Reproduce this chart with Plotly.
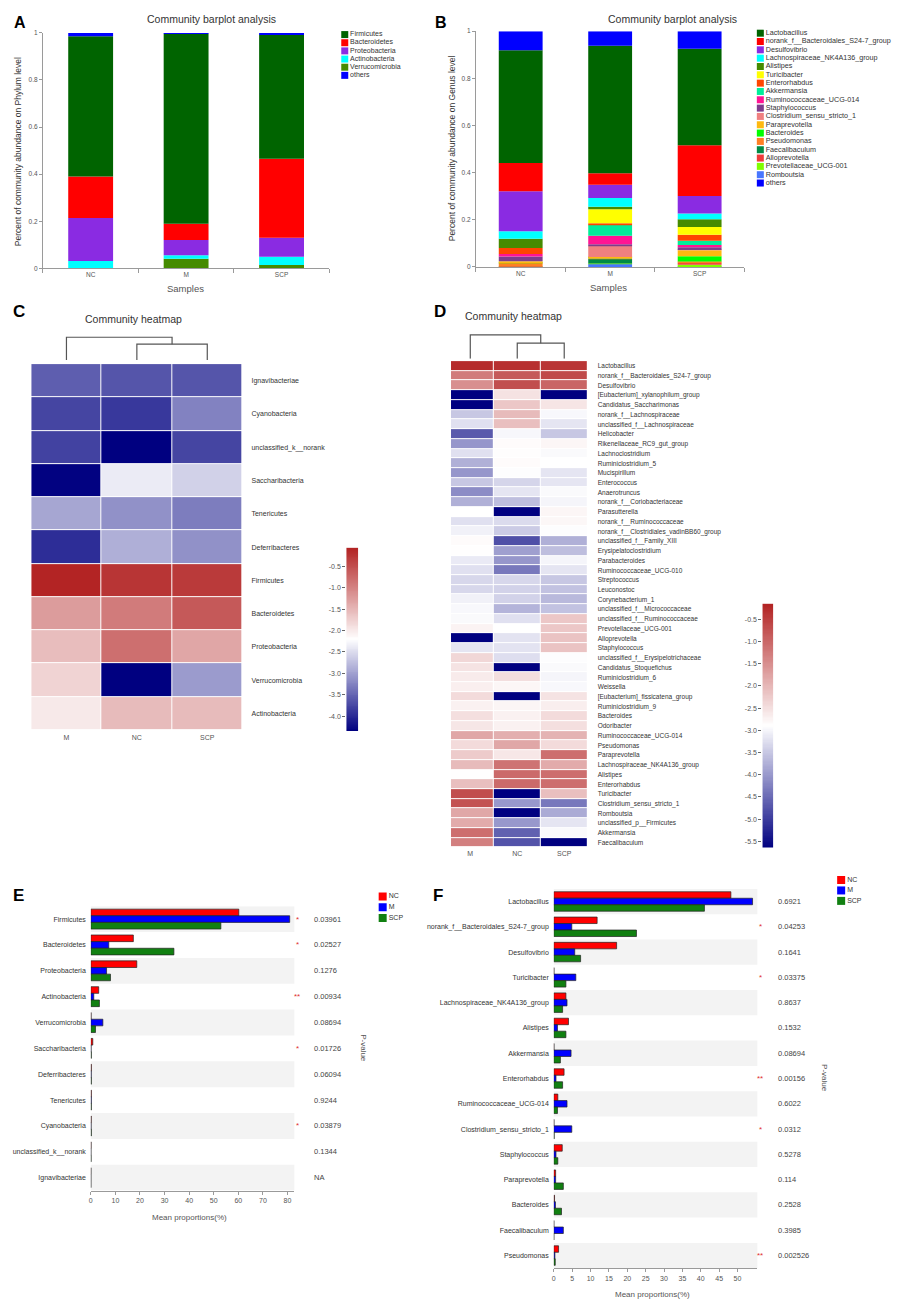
import numpy as np
import plotly.graph_objects as go

# the page body keeps its default 8px margin, so the figure is drawn 8px smaller
# and all pixel positions below are given in page coordinates
OFF = 8
W, H = 907 - OFF, 1307 - OFF
FONT = "Liberation Sans, Arial, sans-serif"
TXT = "#333333"
AX = "#9a9a9a"

# ---------------- data ----------------
samples = ["NC", "M", "SCP"]

# A: phylum level community barplot (fractions)
phyla = ["Firmicutes", "Bacteroidetes", "Proteobacteria", "Actinobacteria",
         "Verrucomicrobia", "others"]
phylum_nc = [0.596, 0.176, 0.183, 0.030, 0.001, 0.014]
phylum_m = [0.807, 0.069, 0.064, 0.015, 0.041, 0.004]
phylum_scp = [0.528, 0.335, 0.081, 0.035, 0.014, 0.007]
phylum_colors = ["#006400", "#FF0000", "#8A2BE2", "#00FFFF", "#458B00", "#0000FF"]

# B: genus level community barplot (fractions)
genera = ["Lactobacillus", "norank_f__Bacteroidales_S24-7_group", "Desulfovibrio",
          "Lachnospiraceae_NK4A136_group", "Alistipes", "Turicibacter", "Enterorhabdus",
          "Akkermansia", "Ruminococcaceae_UCG-014", "Staphylococcus",
          "Clostridium_sensu_stricto_1", "Paraprevotella", "Bacteroides", "Pseudomonas",
          "Faecalibaculum", "Alloprevotella", "Prevotellaceae_UCG-001", "Romboutsia", "others"]
genus_nc = [0.478, 0.120, 0.170, 0.031, 0.040, 0.000, 0.025, 0.000, 0.011, 0.020,
            0.000, 0.005, 0.002, 0.014, 0.000, 0.001, 0.002, 0.000, 0.081]
genus_m = [0.541, 0.048, 0.057, 0.037, 0.010, 0.060, 0.006, 0.047, 0.036, 0.005,
           0.049, 0.002, 0.003, 0.003, 0.020, 0.000, 0.002, 0.012, 0.062]
genus_scp = [0.410, 0.215, 0.074, 0.025, 0.033, 0.033, 0.025, 0.018, 0.010, 0.011,
             0.001, 0.026, 0.022, 0.005, 0.000, 0.009, 0.006, 0.003, 0.074]
genus_colors = ["#006400", "#FF0000", "#8A2BE2", "#00FFFF", "#458B00", "#FFFF00", "#FF4500",
                "#00EE99", "#FF1493", "#7D3C8C", "#F08080", "#FFB90F", "#00FF00", "#FF7F24",
                "#008B45", "#EE3B3B", "#7FFF00", "#4876FF", "#0000FF"]

# C: phylum heatmap (log10 relative abundance)
heat_cols = ["M", "NC", "SCP"]
phylum_heat_rows = ["Ignavibacteriae", "Cyanobacteria", "unclassified_k__norank",
                    "Saccharibacteria", "Tenericutes", "Deferribacteres", "Firmicutes",
                    "Bacteroidetes", "Proteobacteria", "Verrucomicrobia", "Actinobacteria"]
phylum_heat_m = [-3.56, -3.77, -3.80, -4.33, -2.96, -3.97, -0.09, -1.25, -1.57, -1.78, -2.00]
phylum_heat_nc = [-3.64, -3.88, -4.35, -2.38, -3.13, -2.88, -0.25, -0.93, -0.82, -4.35, -1.55]
phylum_heat_scp = [-3.64, -3.26, -3.77, -2.60, -3.30, -3.13, -0.30, -0.60, -1.35, -3.05, -1.55]
c_range = [-4.35, -0.07]
c_ticks = [-0.5, -1.0, -1.5, -2.0, -2.5, -3.0, -3.5, -4.0]
c_dendro = [16, 23]  # NC+SCP merge height, root merge height

# D: genus heatmap (log10 relative abundance)
genus_heat_rows = [
    "Lactobacillus", "norank_f__Bacteroidales_S24-7_group", "Desulfovibrio",
    "[Eubacterium]_xylanophilum_group", "Candidatus_Saccharimonas", "norank_f__Lachnospiraceae",
    "unclassified_f__Lachnospiraceae", "Helicobacter", "Rikenellaceae_RC9_gut_group",
    "Lachnoclostridium", "Ruminiclostridium_5", "Mucispirillum", "Enterococcus", "Anaerotruncus",
    "norank_f__Coriobacteriaceae", "Parasutterella", "norank_f__Ruminococcaceae",
    "norank_f__Clostridiales_vadinBB60_group", "unclassified_f__Family_XIII",
    "Erysipelatoclostridium", "Parabacteroides", "Ruminococcaceae_UCG-010", "Streptococcus",
    "Leuconostoc", "Corynebacterium_1", "unclassified_f__Micrococcaceae",
    "unclassified_f__Ruminococcaceae", "Prevotellaceae_UCG-001", "Alloprevotella",
    "Staphylococcus", "unclassified_f__Erysipelotrichaceae", "Candidatus_Stoquefichus",
    "Ruminiclostridium_6", "Weissella", "[Eubacterium]_fissicatena_group", "Ruminiclostridium_9",
    "Bacteroides", "Odoribacter", "Ruminococcaceae_UCG-014", "Pseudomonas", "Paraprevotella",
    "Lachnospiraceae_NK4A136_group", "Alistipes", "Enterorhabdus", "Turicibacter",
    "Clostridium_sensu_stricto_1", "Romboutsia", "unclassified_p__Firmicutes", "Akkermansia",
    "Faecalibaculum"]
genus_heat_m = [-0.27, -1.25, -1.50, -5.64, -5.64, -3.50, -3.23, -4.68, -4.02, -3.23,
                -3.75, -4.02, -3.50, -4.13, -3.75, -2.90, -3.23, -3.05, -2.85, -2.88,
                -3.12, -3.23, -3.33, -3.33, -3.05, -2.97, -2.95, -2.75, -5.64, -3.17,
                -2.40, -2.55, -2.65, -2.70, -2.45, -2.72, -2.50, -2.58, -1.80, -2.45,
                -2.25, -2.05, -2.88, -2.10, -0.70, -0.75, -1.80, -1.85, -1.10, -1.30]
genus_heat_nc = [-0.32, -0.84, -0.70, -2.54, -2.20, -2.05, -2.10, -2.98, -2.85, -2.87,
                 -2.85, -2.92, -3.35, -3.17, -3.60, -5.64, -3.28, -3.45, -4.79, -3.93,
                 -4.02, -4.35, -3.33, -3.38, -3.38, -3.70, -3.23, -2.90, -3.20, -3.20,
                 -3.25, -5.64, -2.48, -2.78, -5.64, -2.77, -2.72, -2.72, -1.90, -1.80,
                 -2.60, -1.15, -1.05, -1.05, -5.64, -4.00, -5.64, -4.00, -4.60, -4.75]
genus_heat_scp = [-0.39, -0.65, -0.98, -5.64, -2.57, -2.97, -3.17, -3.50, -2.78, -2.95,
                  -2.90, -3.17, -3.17, -2.95, -3.00, -2.78, -2.80, -2.92, -3.75, -3.60,
                  -3.00, -3.17, -3.50, -3.55, -3.65, -3.55, -2.20, -2.20, -2.15, -2.15,
                  -2.92, -2.95, -3.00, -2.97, -2.55, -2.68, -2.45, -2.50, -1.95, -2.45,
                  -1.10, -1.85, -1.10, -1.10, -2.10, -4.35, -3.80, -3.17, -2.95, -5.64]
d_range = [-5.64, -0.15]
d_ticks = [-0.5, -1.0, -1.5, -2.0, -2.5, -3.0, -3.5, -4.0, -4.5, -5.0, -5.5]
d_dendro = [15.7, 24]

# E: phylum differences (mean proportions %)
phylum_diff = ["Firmicutes", "Bacteroidetes", "Proteobacteria", "Actinobacteria",
               "Verrucomicrobia", "Saccharibacteria", "Deferribacteres", "Tenericutes",
               "Cyanobacteria", "unclassified_k__norank", "Ignavibacteriae"]
phylum_diff_nc = [60.2, 17.3, 18.7, 3.2, 0.1, 0.8, 0.2, 0.2, 0.15, 0.1, 0.05]
phylum_diff_m = [80.9, 7.3, 6.4, 1.2, 4.9, 0.1, 0.15, 0.2, 0.1, 0.05, 0.03]
phylum_diff_scp = [52.9, 33.8, 8.0, 3.5, 1.9, 0.2, 0.2, 0.2, 0.2, 0.1, 0.02]
phylum_pvals = ["0.03961", "0.02527", "0.1276", "0.00934", "0.08694", "0.01726",
                "0.06094", "0.9244", "0.03879", "0.1344", "NA"]
phylum_stars = ["*", "*", "", "**", "", "*", "", "", "*", "", ""]

# F: genus differences (mean proportions %)
genus_diff = ["Lactobacillus", "norank_f__Bacteroidales_S24-7_group", "Desulfovibrio",
              "Turicibacter", "Lachnospiraceae_NK4A136_group", "Alistipes", "Akkermansia",
              "Enterorhabdus", "Ruminococcaceae_UCG-014", "Clostridium_sensu_stricto_1",
              "Staphylococcus", "Paraprevotella", "Bacteroides", "Faecalibaculum", "Pseudomonas"]
genus_diff_nc = [48.2, 11.8, 17.1, 0.05, 3.3, 4.0, 0.05, 2.8, 1.1, 0.05, 2.3, 0.5, 0.2, 0.02, 1.3]
genus_diff_m = [54.1, 4.9, 5.7, 6.0, 3.6, 1.0, 4.7, 0.6, 3.6, 4.9, 0.6, 0.5, 0.45, 2.6, 0.3]
genus_diff_scp = [41.0, 22.5, 7.3, 3.3, 2.4, 3.3, 1.8, 2.4, 1.0, 0.1, 1.1, 2.6, 2.1, 0.02, 0.4]
genus_pvals = ["0.6921", "0.04253", "0.1641", "0.03375", "0.8637", "0.1532", "0.08694",
               "0.00156", "0.6022", "0.0312", "0.5278", "0.114", "0.2528", "0.3985", "0.002526"]
genus_stars = ["", "*", "", "*", "", "", "", "**", "", "*", "", "", "", "", "**"]
group_colors = ["#FF0000", "#0000FF", "#118011"]

HEAT = [[0.0, "#000080"], [0.5, "#FFFFFF"], [1.0, "#B22222"]]

# ---------------- figure ----------------
fig = go.Figure()
layout = dict(width=W, height=H, margin=dict(l=0, r=0, t=0, b=0),
              paper_bgcolor="white", plot_bgcolor="white", showlegend=False,
              barmode="group", bargap=0.23, bargroupgap=0,
              font=dict(family=FONT, size=7, color=TXT))
annotations = []
shapes = []


def px(x):
    return (x - OFF) / W


def py(y):
    return 1 - (y - OFF) / H


def new_axes(n, xpx, ypx, xkw=None, ykw=None):
    s = "" if n == 1 else str(n)
    base = dict(showgrid=False, zeroline=False, showline=False, ticks="",
                showticklabels=False, fixedrange=True)
    layout["xaxis" + s] = {**base, "domain": [px(xpx[0]), min(1, px(xpx[1]))], "anchor": "y" + s, **(xkw or {})}
    layout["yaxis" + s] = {**base, "domain": [py(ypx[1]), py(ypx[0])], "anchor": "x" + s, **(ykw or {})}
    return "x" + s, "y" + s


def text(t, x, y, size=8, angle=0, color=TXT, xanchor="center", yanchor="middle",
         yref="paper", bold=False):
    annotations.append(dict(
        text=f"<b>{t}</b>" if bold else t, showarrow=False, textangle=angle,
        x=px(x), y=py(y) if yref == "paper" else y,
        xref="paper", yref=yref, xanchor=xanchor, yanchor=yanchor,
        font=dict(size=size, color=color, family=FONT)))


def swatch_legend(n, names, cols, cx, y0, step, size, fsize=7):
    k = len(names)
    wid = min(110, 906 - cx)
    xa, ya = new_axes(n, (cx - 10, cx + wid), (y0 - step / 2, y0 + step * (k - 0.5)),
                      dict(range=[-10, wid]), dict(range=[k - 0.5, -0.5]))
    fig.add_trace(go.Scatter(x=[0] * k, y=list(range(k)), mode="markers+text", text=names,
                             textposition="middle right", cliponaxis=False,
                             marker=dict(symbol="square", size=size, color=cols),
                             textfont=dict(size=fsize, color=TXT, family=FONT),
                             xaxis=xa, yaxis=ya, hoverinfo="skip"))


def stacked_bars(n, xpx, ypx, names, cols, nc, m, scp, width):
    tick_font = dict(size=6.5, color="#555555")
    xa, ya = new_axes(n, xpx, ypx,
                      dict(type="category", categoryorder="array", categoryarray=samples,
                           range=[-0.5, 2.5], showline=True, linecolor=AX, ticks="outside",
                           tickson="boundaries", ticklen=4, tickcolor=AX,
                           showticklabels=True, tickfont=tick_font),
                      dict(range=[0, 1], showline=True, linecolor=AX, ticks="outside", ticklen=3,
                           tickcolor=AX, showticklabels=True,
                           tickvals=[0, 0.2, 0.4, 0.6, 0.8, 1],
                           ticktext=["0", "0.2", "0.4", "0.6", "0.8", "1"], tickfont=tick_font))
    vals = np.column_stack([nc, m, scp])
    order = list(range(len(names) - 1))[::-1] + [len(names) - 1]
    bottom = np.zeros(3)
    for i in order:
        fig.add_trace(go.Bar(x=samples, y=vals[i], base=bottom.copy(), width=width,
                             offsetgroup=f"stack{n}", marker=dict(color=cols[i], line=dict(width=0)),
                             xaxis=xa, yaxis=ya, hoverinfo="skip"))
        bottom += vals[i]


def heatmap(n, xpx, ypx, rows, cols_vals, zr, xrange, row_font, row_gap, col_gap):
    xa, ya = new_axes(n, xpx, ypx,
                      dict(type="category", categoryorder="array", categoryarray=heat_cols,
                           range=xrange, showticklabels=True, tickfont=dict(size=7, color="#555555"),
                           ticklabelstandoff=col_gap),
                      dict(type="category", categoryorder="array", categoryarray=rows,
                           range=[len(rows) - 0.5, -0.5], side="right", showticklabels=True,
                           tickfont=dict(size=row_font, color=TXT), ticklabelstandoff=row_gap))
    z = np.column_stack(cols_vals)
    fig.add_trace(go.Heatmap(z=z, x=heat_cols, y=rows, colorscale=HEAT, zmin=zr[0], zmax=zr[1],
                             showscale=False, xgap=1, ygap=1, xaxis=xa, yaxis=ya, hoverinfo="skip"))


def colorbar(n, xpx, ypx, zr, ticks):
    grad = np.linspace(zr[0], zr[1], 200)
    xa, ya = new_axes(n, xpx, ypx, dict(range=[-0.5, 0.5]),
                      dict(range=zr, side="left", showticklabels=True, ticks="outside", ticklen=3,
                           tickcolor="#666666", tickvals=ticks, ticktext=[f"{v:.1f}" for v in ticks],
                           tickfont=dict(size=7, color="#555555")))
    fig.add_trace(go.Heatmap(z=grad.reshape(-1, 1), x=[0], y=grad, colorscale=HEAT,
                             zmin=zr[0], zmax=zr[1], showscale=False, xaxis=xa, yaxis=ya,
                             hoverinfo="skip"))


def dendrogram(n, xpx, ypx, xrange, heights):
    xa, ya = new_axes(n, xpx, ypx, dict(range=xrange), dict(range=[0, 30]))
    a, b, r = heat_cols.index("NC"), heat_cols.index("SCP"), heat_cols.index("M")
    mid = (a + b) / 2
    fig.add_trace(go.Scatter(x=[a, a, b, b, None, r, r, mid, mid],
                             y=[0, heights[0], heights[0], 0, None, 0, heights[1], heights[1], heights[0]],
                             mode="lines", line=dict(color="#555555", width=1.2),
                             xaxis=xa, yaxis=ya, hoverinfo="skip"))


def diff_bars(n, xpx, ypx, cats, series, xmax, tickvals, pvals, stars, star_x, p_x):
    xa, ya = new_axes(n, xpx, ypx,
                      dict(range=[0, xmax], showline=True, linecolor=AX, ticks="outside", ticklen=3,
                           tickcolor=AX, tickvals=tickvals, showticklabels=True,
                           tickfont=dict(size=7, color="#555555")),
                      dict(type="category", categoryorder="array", categoryarray=cats,
                           range=[len(cats) - 0.5, -0.5], showticklabels=True,
                           tickfont=dict(size=7, color=TXT), ticklabelstandoff=4))
    for name, vals, col in zip(samples, series, group_colors):
        fig.add_trace(go.Bar(y=cats, x=vals, orientation="h", name=name,
                             marker=dict(color=col, line=dict(color="#222222", width=0.7)),
                             xaxis=xa, yaxis=ya, hoverinfo="skip"))
    for i in range(0, len(cats), 2):
        shapes.append(dict(type="rect", xref=f"{xa} domain", yref=ya, x0=0, x1=1,
                           y0=i - 0.5, y1=i + 0.5, fillcolor="#F3F3F3", line=dict(width=0),
                           layer="below"))
    for cat, p, s in zip(cats, pvals, stars):
        if s:
            text(s, star_x, cat, size=8, color="#E03030", yref=ya)
        text(p, p_x, cat, size=7.5, color="#444444", xanchor="left", yref=ya)


# ---- A ----
stacked_bars(1, (41, 328), (29, 265.7), phyla, phylum_colors,
             phylum_nc, phylum_m, phylum_scp, 0.47)
swatch_legend(11, phyla, phylum_colors, 343.5, 30.7, 8.2, 7)
text("Community barplot analysis", 210, 15, size=10.5)
text("Percent of community abundance on Phylum level", 16, 148, size=8.5, angle=-90)
text("Samples", 184, 286, size=9.5, color="#555555")
text("A", 18, 8.5, size=16, color="black", yanchor="top", bold=True)

# ---- B ----
stacked_bars(2, (475, 744), (27.3, 264.3), genera, genus_colors,
             genus_nc, genus_m, genus_scp, 0.49)
swatch_legend(12, genera, genus_colors, 760, 29.3, 8.37, 7, fsize=7.2)
text("Community barplot analysis", 672, 15, size=10.5)
text("Percent of community abundance on Genus level", 451, 145, size=8.5, angle=-90)
text("Samples", 608, 285, size=9.5, color="#555555")
text("B", 440, 8.5, size=16, color="black", yanchor="top", bold=True)

# ---- C ----
heatmap(3, (29.3, 241), (362, 730), phylum_heat_rows,
        [phylum_heat_m, phylum_heat_nc, phylum_heat_scp], c_range, [-0.5, 2.5], 7, 8, 2)
dendrogram(4, (29.3, 241), (328, 358), [-0.5, 2.5], c_dendro)
colorbar(5, (345, 357), (546.7, 731), c_range, c_ticks)
text("Community heatmap", 132, 317, size=10.5)
text("C", 17, 309, size=17, color="black", bold=True)

# ---- D ----
heatmap(6, (450, 587), (359, 848), genus_heat_rows,
        [genus_heat_m, genus_heat_nc, genus_heat_scp], d_range, [-0.41, 2.5], 6.5, 9, 1)
dendrogram(7, (450, 587), (326.7, 356.7), [-0.41, 2.5], d_dendro)
colorbar(8, (762, 773), (603, 848), d_range, d_ticks)
text("Community heatmap", 513, 314, size=10.5)
text("D", 439, 309, size=17, color="black", bold=True)

# ---- E ----
diff_bars(9, (89, 293), (907, 1193), phylum_diff,
          [phylum_diff_nc, phylum_diff_m, phylum_diff_scp], 82.8, list(range(0, 81, 10)),
          phylum_pvals, phylum_stars, 296, 311)
swatch_legend(13, samples, group_colors, 381.5, 897.3, 10.8, 8)
text("Mean proportions(%)", 188, 1220, size=8, color="#555555")
text("P-value", 362, 1050, size=8, angle=90, color="#555555")
text("E", 17, 896, size=17, color="black", bold=True)

# ---- F ----
diff_bars(10, (553, 757), (889.6, 1271), genus_diff,
          [genus_diff_nc, genus_diff_m, genus_diff_scp], 55.4, list(range(0, 51, 5)),
          genus_pvals, genus_stars, 760, 776)
swatch_legend(14, samples, group_colors, 841, 880.7, 10.5, 8)
text("Mean proportions(%)", 652, 1297, size=8, color="#555555")
text("P-value", 825, 1080, size=8, angle=90, color="#555555")
text("F", 437, 896, size=17, color="black", bold=True)

layout["annotations"] = annotations
layout["shapes"] = shapes
fig.update_layout(**layout)
fig.write_html("out.html")
